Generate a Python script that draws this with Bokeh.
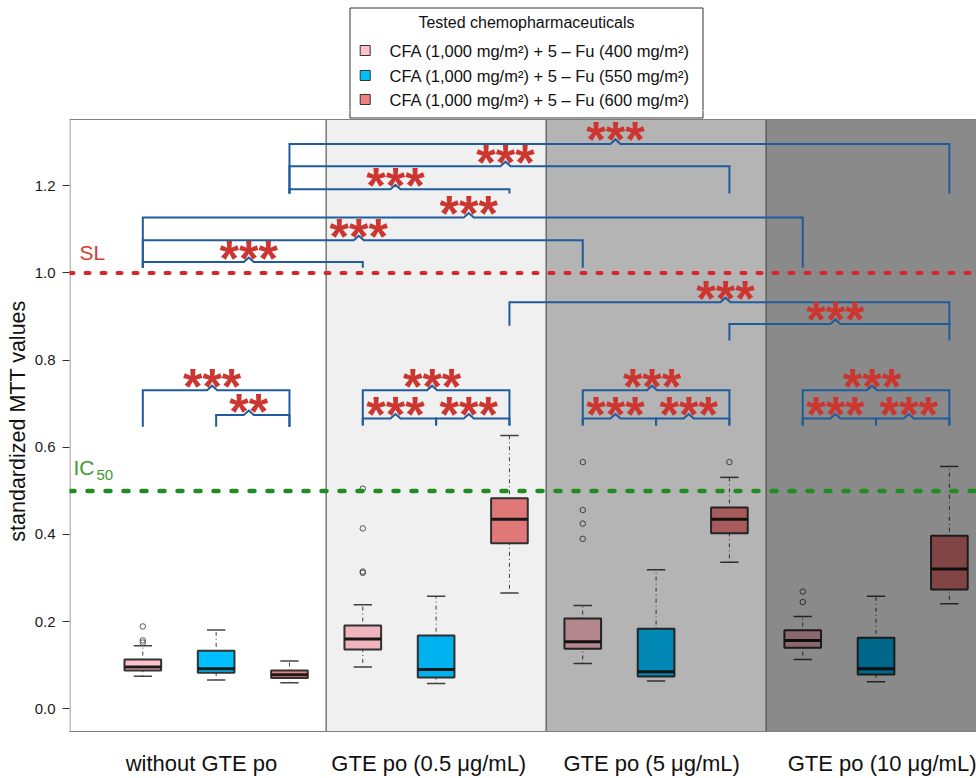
import numpy as np
from bokeh.plotting import figure
from bokeh.models import Range1d, FixedTicker, Span, ColumnDataSource, PrintfTickFormatter
from bokeh.layouts import column
from bokeh.embed import file_html
from bokeh.resources import INLINE
from bokeh.core.properties import value

FONT = "Liberation Sans"

# ---------------------------------------------------------------- data
conditions = ["without GTE po", "GTE po (0.5 μg/mL)", "GTE po (5 μg/mL)", "GTE po (10 μg/mL)"]
condition_label_x = [1.80, 4.90, 7.94, 11.12]

treatments = [
    "CFA (1,000 mg/m²) + 5 – Fu (400 mg/m²)",
    "CFA (1,000 mg/m²) + 5 – Fu (550 mg/m²)",
    "CFA (1,000 mg/m²) + 5 – Fu (600 mg/m²)",
]
treatment_colors = ["#FFC0CB", "#00BFFF", "#F08080"]

# box statistics, condition by condition (400 / 550 / 600 within each)
whisker_low = [0.075, 0.066, 0.060, 0.096, 0.058, 0.266, 0.104, 0.064, 0.336, 0.113, 0.062, 0.241]
q1 = [0.088, 0.083, 0.071, 0.136, 0.072, 0.380, 0.138, 0.074, 0.403, 0.140, 0.079, 0.274]
median = [0.096, 0.092, 0.078, 0.160, 0.090, 0.435, 0.154, 0.085, 0.435, 0.157, 0.092, 0.321]
q3 = [0.113, 0.133, 0.088, 0.191, 0.168, 0.483, 0.207, 0.184, 0.462, 0.180, 0.163, 0.397]
whisker_high = [0.145, 0.181, 0.110, 0.239, 0.258, 0.627, 0.237, 0.319, 0.531, 0.212, 0.258, 0.556]

outlier_box = [0, 0, 0, 3, 3, 3, 3, 6, 6, 6, 6, 8, 9, 9]
outlier_value = [0.189, 0.157, 0.152, 0.505, 0.414, 0.315, 0.312,
                 0.566, 0.456, 0.425, 0.390, 0.566, 0.269, 0.245]

# reference thresholds
SL = 1.0
IC50 = 0.5

# significance brackets: first box, last box (1-based), bar height, leg end, stars
bracket_left = [3, 3, 3, 1, 1, 1, 6, 9, 1, 2, 4, 4, 5, 7, 7, 8, 10, 10, 11]
bracket_right = [12, 9, 6, 10, 7, 4, 12, 12, 3, 3, 6, 5, 6, 9, 8, 9, 12, 11, 12]
bracket_height = [1.296, 1.245, 1.192, 1.127, 1.075, 1.025, 0.933, 0.883,
                  0.731, 0.674, 0.731, 0.666, 0.666, 0.731, 0.666, 0.666, 0.731, 0.666, 0.666]
bracket_foot = [1.182] * 3 + [1.012] * 3 + [0.879, 0.845] + [0.647] * 2 + [0.650] * 9
bracket_stars = ["***"] * 9 + ["**"] + ["***"] * 9

# shading of the four condition panels (darkness of the overlay)
panel_shade = [0.0, 0.059, 0.294, 0.459]

# ---------------------------------------------------------------- styling / geometry
BRACKET = "#1E5C9C"
STAR = "#CD3530"
SL_COLOR = "#D8262A"
IC_COLOR = "#228B22"
AXIS_GREY = "#808080"
BASE_SHIFT = 0.37  # lifts svg text so its alphabetic baseline lands on the anchor

W = 976
LEFT = 69
H_LEG = 110             # legend strip height; the main canvas starts right below it
BOX_TOP_PX, BOX_BOTTOM_PX = 119, 732
H_MAIN = 778 - H_LEG
BOTTOM = 778 - BOX_BOTTOM_PX

X_START, X_END = 0.0, 12.37
Y_START, BOX_TOP = -0.052, 1.352
px_x = (X_END - X_START) / (W - LEFT)
px_y = (BOX_TOP - Y_START) / (BOX_BOTTOM_PX - BOX_TOP_PX)
Y_END = BOX_TOP + (BOX_TOP_PX - H_LEG) * px_y


def page_x(px):
    return X_START + (px - LEFT) * px_x


def page_y(py):
    return BOX_TOP + (BOX_TOP_PX - py) * px_y


# ---------------------------------------------------------------- main plot
p = figure(width=W, height=H_MAIN, x_range=Range1d(X_START, X_END),
           y_range=Range1d(Y_START, Y_END), output_backend="svg",
           toolbar_location=None, title=None,
           min_border_left=LEFT, min_border_right=0,
           min_border_top=0, min_border_bottom=BOTTOM)
p.xgrid.visible = False
p.ygrid.visible = False
p.outline_line_color = None
p.background_fill_color = "white"
p.border_fill_color = "white"

n_box = len(median)
pos = np.arange(1, n_box + 1, dtype=float)
colors = [treatment_colors[i % 3] for i in range(n_box)]
box_w, cap_w = 0.5, 0.25

src = ColumnDataSource(dict(
    x=pos, lo=whisker_low, q1=q1, med=median, q3=q3, hi=whisker_high, color=colors,
    left=pos - box_w / 2, right=pos + box_w / 2,
    cl=pos - cap_w / 2, cr=pos + cap_w / 2))

p.segment("x", "q3", "x", "hi", source=src, line_color="#444444", line_width=1, line_dash="1 3 4 3")
p.segment("x", "lo", "x", "q1", source=src, line_color="#444444", line_width=1, line_dash="1 3 4 3")
p.segment("cl", "hi", "cr", "hi", source=src, line_color="#444444", line_width=1.5)
p.segment("cl", "lo", "cr", "lo", source=src, line_color="#444444", line_width=1.5)
p.quad(left="left", right="right", bottom="q1", top="q3", source=src,
       fill_color="color", line_color="#333333", line_width=2)
p.segment("left", "med", "right", "med", source=src, line_color="#1a1a1a", line_width=3)
p.scatter(x=[pos[b] for b in outlier_box], y=outlier_value, marker="circle", size=5.5,
          fill_color=None, line_color="#555555", line_width=1)

# panel overlays and dividers
n_groups = len(conditions)
edges = [3 * g + 0.5 for g in range(1, n_groups)]
shade_src = ColumnDataSource(dict(
    left=[X_START] + edges, right=edges + [X_END + 1], alpha=panel_shade))
p.quad(left="left", right="right", bottom=Y_START - 1, top=BOX_TOP, source=shade_src,
       fill_color="black", fill_alpha="alpha", line_color=None)
p.segment(x0=edges, y0=[Y_START - 1] * len(edges), x1=edges, y1=[BOX_TOP] * len(edges),
          line_color="#3c3c3c", line_width=1)

# plotting box: left and top edges (the bottom edge is the x axis line)
p.segment(x0=[X_START + 0.5 * px_x, X_START], y0=[Y_START - 1, BOX_TOP],
          x1=[X_START + 0.5 * px_x, X_END + 1], y1=[BOX_TOP, BOX_TOP],
          line_color=AXIS_GREY, line_width=1)

# threshold lines
p.add_layout(Span(location=SL, dimension="width", line_color=SL_COLOR, line_width=4,
                  line_dash="4 12", line_cap="round"))
p.add_layout(Span(location=IC50, dimension="width", line_color=IC_COLOR, line_width=4.5,
                  line_dash="5 13", line_cap="round"))
p.text(x=[X_START + 10 * px_x], y=[SL + 13 * px_y], text=["SL"], text_font=value(FONT),
       text_font_size="21px", text_color="#D93A30", text_align="left",
       text_baseline="alphabetic", y_offset=-BASE_SHIFT * 21)
p.text(x=[X_START + 4 * px_x], y=[IC50 + 16 * px_y], text=["IC"], text_font=value(FONT),
       text_font_size="21px", text_color="#3E9A2C", text_align="left",
       text_baseline="alphabetic", y_offset=-BASE_SHIFT * 21)
p.text(x=[X_START + 4 * px_x], y=[IC50 + 16 * px_y], text=["50"], text_font=value(FONT),
       text_font_size="15px", text_color="#3E9A2C", text_align="left",
       text_baseline="alphabetic", x_offset=23, y_offset=6 - BASE_SHIFT * 15)

# significance brackets with a small peak under the stars
notch_w, notch_h, notch_shift = 5 * px_x, 4.5 * px_y, 4 * px_x
xs, ys, star_x = [], [], []
for l, r, h, f in zip(bracket_left, bracket_right, bracket_height, bracket_foot):
    m = (l + r) / 2 - notch_shift
    xs.append([l, l, m - notch_w, m, m + notch_w, r, r])
    ys.append([f, h, h, h + notch_h, h, h, f])
    star_x.append(m)
p.multi_line(xs, ys, line_color=BRACKET, line_width=2, line_join="miter")
p.text(x=star_x, y=bracket_height, text=bracket_stars, text_font=value(FONT),
       text_font_style="bold", text_font_size="50px", text_color=STAR,
       text_align="center", text_baseline="alphabetic", y_offset=15 - BASE_SHIFT * 50)

# lower end of the legend frame, which reaches down to the plotting box
p.quad(left=[page_x(349.5)], right=[page_x(702.5)], top=[page_y(90)], bottom=[page_y(117.5)],
       fill_color="white", line_color="#333333", line_width=1)

# axes
p.yaxis.ticker = FixedTicker(ticks=[0.0, 0.2, 0.4, 0.6, 0.8, 1.0, 1.2])
p.yaxis.formatter = PrintfTickFormatter(format="%.1f")
p.yaxis.axis_line_color = None
p.yaxis.major_tick_line_color = "#333333"
p.yaxis.major_tick_in = 0
p.yaxis.major_tick_out = 7
p.yaxis.minor_tick_line_color = None
p.yaxis.major_label_standoff = 7
p.yaxis.major_label_text_font = FONT
p.yaxis.major_label_text_font_size = "15px"
p.yaxis.major_label_text_color = "#1a1a1a"
p.yaxis.axis_label = "standardized MTT values"
p.yaxis.axis_label_text_font = FONT
p.yaxis.axis_label_text_font_size = "21.5px"
p.yaxis.axis_label_text_font_style = "normal"
p.yaxis.axis_label_text_color = "#111111"
p.yaxis.axis_label_standoff = 2

p.xaxis.ticker = FixedTicker(ticks=condition_label_x)
p.xaxis.major_label_overrides = {x: lab for x, lab in zip(condition_label_x, conditions)}
p.xaxis.axis_line_color = AXIS_GREY
p.xaxis.major_tick_line_color = None
p.xaxis.minor_tick_line_color = None
p.xaxis.major_tick_out = 0
p.xaxis.major_tick_in = 0
p.xaxis.major_label_standoff = 19
p.xaxis.major_label_text_font = FONT
p.xaxis.major_label_text_font_size = "22px"
p.xaxis.major_label_text_color = "#111111"

# ---------------------------------------------------------------- legend strip
# x and y run in page pixels across the strip's frame
leg = figure(width=W, height=H_LEG, x_range=Range1d(LEFT, W), y_range=Range1d(H_LEG, 0),
             output_backend="svg", toolbar_location=None, title=None,
             x_axis_location=None, y_axis_location=None,
             min_border_left=LEFT, min_border_right=0, min_border_top=0, min_border_bottom=0)
leg.xgrid.visible = False
leg.ygrid.visible = False
leg.outline_line_color = None

leg.quad(left=[349.5], right=[702.5], top=[7.5], bottom=[H_LEG + 20],
         fill_color="white", line_color="#333333", line_width=1)
leg.text(x=[526], y=[27.5], text=["Tested chemopharmaceuticals"], text_font=value(FONT),
         text_font_size="16px", text_color="#111111", text_align="center",
         text_baseline="alphabetic", y_offset=-BASE_SHIFT * 16)
row_y = [50.0, 75.0, 99.0]
leg.rect(x=[364.7] * 3, y=row_y, width=10, height=10, fill_color=treatment_colors,
         line_color="#333333", line_width=1)
leg.text(x=[389] * 3, y=[y + 6.3 for y in row_y], text=treatments, text_font=value(FONT),
         text_font_size="16.5px", text_color="#111111", text_align="left",
         text_baseline="alphabetic", y_offset=-BASE_SHIFT * 16.5)

layout = column(leg, p, spacing=0)
open("out.html", "w").write(file_html(layout, INLINE))
